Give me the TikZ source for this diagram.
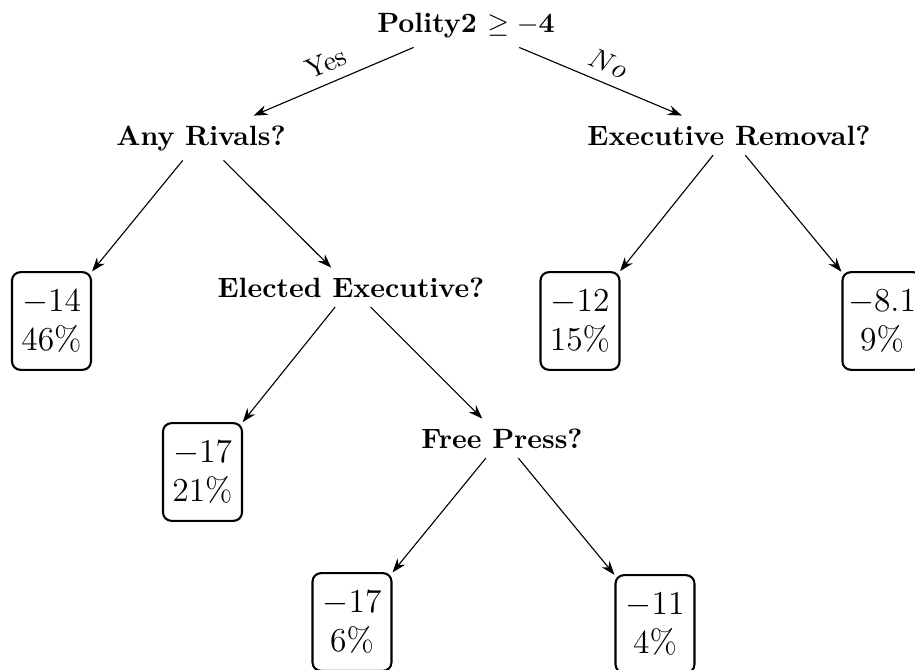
\documentclass[tikz,border=0pt]{standalone}
\usetikzlibrary{arrows.meta}
\begin{document}
\begin{tikzpicture}[x=0.3584pt,y=-0.3584pt,
  question/.style={font=\bfseries, anchor=base},
  leafbox/.style={draw, line width=0.75pt, rounded corners=3pt, align=center,
    font=\large, minimum width=28.3pt, minimum height=35pt, inner sep=2pt},
  edgearrow/.style={-{Stealth[length=5pt,width=3.6pt]}, line width=0.4pt},
  edgelabel/.style={sloped, above, pos=0.5, inner sep=3.5pt}
]
\useasboundingbox (0,0) rectangle (915,670);

\node[question] (root) at (466,32) {Polity2 $\geq \mathbf{-4}$};
\node[question] (rivals) at (201,145) {Any Rivals?};
\node[question] (removal) at (729,145) {Executive Removal?};
\node[question] (elected) at (351,297) {Elected Executive?};
\node[question] (press) at (502,448) {Free Press?};

\node[leafbox] (l1) at (51.5,321) {$-14$\\$46\%$};
\node[leafbox] (l2) at (580,321) {$-12$\\$15\%$};
\node[leafbox] (l3) at (882,321) {$-8.1$\\$9\%$};
\node[leafbox] (l4) at (202.5,472) {$-17$\\$21\%$};
\node[leafbox] (l5) at (352,622) {$-17$\\$6\%$};
\node[leafbox] (l6) at (655,624) {$-11$\\$4\%$};

\draw[edgearrow] (root) -- node[edgelabel] {Yes} (rivals);
\draw[edgearrow] (root) -- node[edgelabel] {$No$} (removal);
\draw[edgearrow] (rivals) -- (l1);
\draw[edgearrow] (rivals) -- (elected);
\draw[edgearrow] (removal) -- (l2);
\draw[edgearrow] (removal) -- (l3);
\draw[edgearrow] (elected) -- (l4);
\draw[edgearrow] (elected) -- (press);
\draw[edgearrow] (press) -- (l5);
\draw[edgearrow] (press) -- (l6);
\end{tikzpicture}
\end{document}
